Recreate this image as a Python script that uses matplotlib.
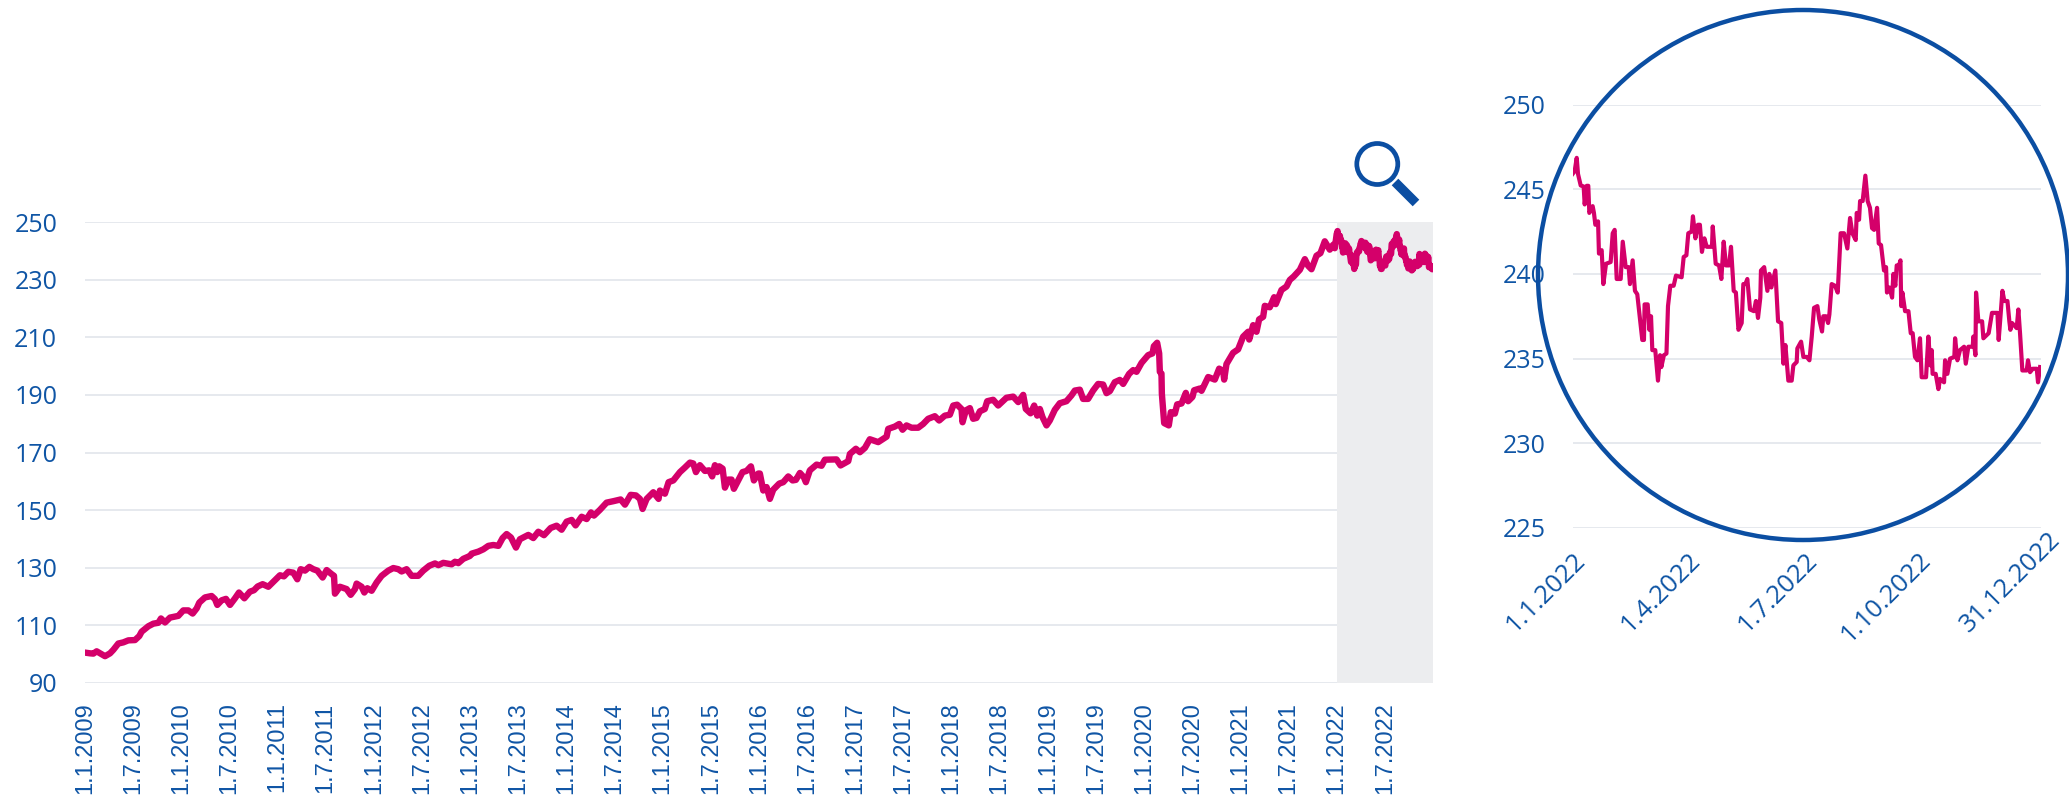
# Index 2009-2022 with a magnified view of 2022
import matplotlib
matplotlib.use('Agg')
import matplotlib.pyplot as plt
from matplotlib.lines import Line2D
from matplotlib.patches import Circle
from matplotlib.transforms import IdentityTransform, ScaledTranslation
import numpy as np

plt.rcParams['font.family'] = ['Open Sans', 'DejaVu Sans']

# whole period up to the end of 2021, date as decimal year
years_2009_2021 = [
    2009.01, 2009.052, 2009.087, 2009.121, 2009.163, 2009.208, 2009.26, 2009.294, 2009.346, 2009.398,
    2009.45, 2009.519, 2009.564, 2009.588, 2009.658, 2009.71, 2009.762, 2009.789, 2009.831, 2009.883,
    2009.969, 2010.021, 2010.073, 2010.118, 2010.16, 2010.187, 2010.246, 2010.315, 2010.35, 2010.374,
    2010.419, 2010.464, 2010.506, 2010.558, 2010.599, 2010.655, 2010.713, 2010.755, 2010.793, 2010.845,
    2010.904, 2010.949, 2011.025, 2011.066, 2011.111, 2011.163, 2011.205, 2011.24, 2011.285, 2011.33,
    2011.371, 2011.413, 2011.468, 2011.51, 2011.561, 2011.586, 2011.596, 2011.648, 2011.717, 2011.759,
    2011.804, 2011.821, 2011.873, 2011.901, 2011.932, 2011.977, 2012.029, 2012.081, 2012.15, 2012.202,
    2012.254, 2012.288, 2012.34, 2012.392, 2012.461, 2012.513, 2012.576,
    2012.635, 2012.67, 2012.721, 2012.808, 2012.843, 2012.877, 2012.929, 2012.998, 2013.016, 2013.085,
    2013.137, 2013.189, 2013.241, 2013.293, 2013.337, 2013.379, 2013.424, 2013.476, 2013.517, 2013.604,
    2013.656, 2013.708, 2013.767, 2013.836, 2013.898, 2013.95, 2014.002, 2014.054, 2014.095, 2014.158,
    2014.21, 2014.255, 2014.286, 2014.348, 2014.417, 2014.487, 2014.563, 2014.608, 2014.667, 2014.722,
    2014.763, 2014.791, 2014.833, 2014.902, 2014.957, 2014.971, 2015.023, 2015.061, 2015.11, 2015.179,
    2015.231, 2015.283, 2015.317, 2015.345, 2015.386, 2015.438, 2015.483, 2015.514, 2015.542, 2015.566,
    2015.587, 2015.622, 2015.646, 2015.681, 2015.715, 2015.739, 2015.784, 2015.829, 2015.871, 2015.916,
    2015.947, 2015.992, 2016.009, 2016.044, 2016.079, 2016.113, 2016.148, 2016.21,
    2016.252, 2016.304, 2016.349, 2016.383, 2016.425, 2016.466, 2016.487, 2016.528, 2016.598, 2016.65,
    2016.684, 2016.805, 2016.847, 2016.927, 2016.944, 2017.006, 2017.048, 2017.1, 2017.151, 2017.238,
    2017.325, 2017.342, 2017.411, 2017.456, 2017.491, 2017.532, 2017.584, 2017.653, 2017.705, 2017.757,
    2017.826, 2017.871, 2017.93, 2017.982, 2018.017, 2018.058, 2018.103, 2018.114, 2018.148, 2018.19,
    2018.224, 2018.259, 2018.294, 2018.345, 2018.37, 2018.432, 2018.484, 2018.57, 2018.64, 2018.692,
    2018.744, 2018.771, 2018.82, 2018.858, 2018.889, 2018.917, 2018.944, 2018.986, 2019.02, 2019.072,
    2019.124, 2019.193, 2019.245, 2019.28, 2019.332, 2019.366, 2019.418, 2019.47, 2019.522, 2019.574,
    2019.609, 2019.644, 2019.695, 2019.747, 2019.782, 2019.844,
    2019.886, 2019.921, 2019.973, 2020.042, 2020.087, 2020.101, 2020.135, 2020.156, 2020.163, 2020.18,
    2020.184, 2020.198, 2020.208, 2020.256, 2020.277, 2020.319, 2020.343, 2020.388, 2020.433, 2020.457,
    2020.502, 2020.519, 2020.578, 2020.596, 2020.665, 2020.734, 2020.779, 2020.821, 2020.831, 2020.855,
    2020.924, 2020.976, 2021.028, 2021.08, 2021.091, 2021.132, 2021.167, 2021.194, 2021.236, 2021.253,
    2021.305, 2021.35, 2021.367, 2021.426, 2021.478, 2021.513, 2021.554, 2021.617, 2021.669, 2021.703,
    2021.738, 2021.79, 2021.831, 2021.876, 2021.928, 2021.963, 2021.98,
]
values_2009_2021 = [
    100.5, 100.3, 100.2, 101.0, 100.2, 99.3, 100.3, 101.5, 103.7, 104.1,
    104.8, 104.9, 106.3, 107.8, 109.7, 110.6, 110.9, 112.4, 111.0, 112.7,
    113.3, 115.2, 115.2, 114.1, 115.9, 117.9, 119.7, 120.2, 119.1, 117.1,
    118.7, 119.2, 117.1, 119.4, 121.4, 119.4, 121.7, 122.2, 123.5, 124.3,
    123.4, 124.9, 127.4, 127.0, 128.6, 128.3, 126.0, 129.5, 129.0, 130.3,
    129.5, 129.0, 126.6, 129.2, 127.8, 127.2, 121.0, 123.4, 122.6, 120.6,
    122.6, 124.5, 123.4, 121.4, 122.9, 122.0, 124.9, 127.2, 129.0, 129.9,
    129.5, 128.7, 129.5, 127.2, 127.2, 129.0, 130.7,
    131.5, 130.9, 131.7, 131.2, 132.1, 131.6, 133.1, 134.1, 134.9, 135.6,
    136.4, 137.6, 137.9, 137.6, 140.3, 141.7, 140.5, 137.0, 139.9, 141.4,
    140.3, 142.5, 141.3, 143.8, 144.6, 143.2, 146.0, 146.6, 144.7, 147.7,
    146.9, 149.2, 148.1, 150.1, 152.6, 153.1, 153.7, 151.9, 155.3, 155.1,
    153.9, 150.4, 153.9, 156.2, 153.9, 156.8, 155.7, 159.7, 160.3, 163.2,
    164.8, 166.5, 166.2, 163.2, 165.6, 163.6, 163.8, 161.7, 165.6, 163.2,
    165.2, 164.4, 157.8, 160.6, 160.6, 157.4, 160.3, 163.2, 163.6, 165.2,
    160.3, 162.7, 162.7, 156.8, 158.0, 153.9, 157.1, 159.2,
    159.7, 161.7, 160.3, 160.5, 162.9, 161.4, 159.7, 163.8, 165.8, 165.4,
    167.5, 167.6, 165.5, 167.0, 169.5, 171.3, 170.1, 171.6, 174.6, 173.6,
    175.5, 178.2, 179.0, 179.9, 177.9, 179.4, 178.6, 178.6, 179.9, 181.7,
    182.6, 181.1, 182.8, 183.1, 186.3, 186.6, 185.1, 180.5, 184.6, 185.4,
    181.7, 182.0, 184.3, 185.1, 187.8, 188.3, 186.3, 189.0, 189.4, 187.5,
    190.0, 185.1, 183.6, 186.3, 182.8, 185.1, 182.3, 179.4, 181.1, 184.8,
    187.1, 187.8, 189.8, 191.5, 191.8, 188.6, 188.6, 191.5, 193.8, 193.6,
    190.6, 191.3, 194.4, 195.2, 193.8, 197.3,
    198.6, 198.0, 201.1, 203.8, 204.4, 206.9, 208.1, 204.4, 198.0, 197.4,
    190.4, 184.6, 180.2, 179.4, 184.0, 183.5, 186.7, 187.0, 190.7, 187.8,
    189.3, 191.6, 192.2, 191.4, 196.2, 195.3, 199.1, 198.3, 195.3, 200.7,
    204.6, 205.8, 210.2, 211.9, 209.2, 214.2, 211.9, 216.2, 217.1, 220.9,
    220.4, 223.9, 221.5, 226.4, 227.6, 229.9, 231.1, 233.4, 237.1, 234.8,
    233.6, 238.3, 239.2, 243.3, 240.4, 242.1, 240.9,
]

# 2022, date as days since 1.1.2022
days_2022 = [
    0, 1.6, 3.2, 4.2, 6.3, 8.6, 9.4, 11, 12.2, 13, 15.6, 16.6, 17.7, 19.8, 20.5, 22.6, 23.9, 26, 29.6, 31.2,
    32.7, 34.3, 37.4, 39, 41.3, 43.6, 44.6, 46.7, 48.5, 50.3, 54.2, 55.5, 56, 58.4, 59.7, 61, 62, 64.3, 66.4, 68,
    69, 71, 73, 74.2, 76, 78.6, 80.4, 84.8, 86.4, 88.5, 90, 92.6, 93.6, 95.5, 97.5, 99, 100.6, 102.5, 104.3, 108.4,
    109, 111.3, 113.9, 115.7, 117.5, 119.3, 121.7, 123.2, 125.3, 127, 129, 131.5, 132.8, 134.4, 135.9, 138, 141, 142.6, 144.2, 146,
    146.5, 149, 151.5, 153, 154.6, 157.7, 159.8, 162.3, 164, 165.5, 167.8, 170.4, 171.7, 174.3, 174.8, 177.7, 179.5, 182.1, 184.2, 186,
    187.8, 190.4, 191.9, 194, 195, 197.1, 198.7, 199.7, 201.5, 204.1, 206.2, 208.5, 211.1, 213.7, 215.8, 217.6, 220.2, 221, 222.8, 223.6,
    225.6, 227.7, 229.5, 231.3, 232.9, 234.5, 236.8, 238.1, 239.9, 242.2, 243.8, 244.5, 246.4, 248.5, 249.5, 251, 252.1, 253.9, 255, 255.6,
    256.5, 258.6, 261.2, 263, 264.5, 266.3, 268.2, 270.2, 271.5, 274.9, 276.7, 278.3, 279.3, 280, 282.4, 284.5, 285.8, 288.9, 289.7, 291.5,
    293.6, 296.9, 297.5, 299.3, 301.3, 304.5, 305.8, 307.8, 311.2, 311.7, 313.3, 313.8, 315.6, 318.5, 319.5, 323.6, 326.2, 330.4, 331.4, 334.3,
    335.8, 338.2, 339.7, 340.5, 341.8, 345.4, 346.7, 348, 349.8, 353.2, 354.2, 355.8, 357.9, 361, 362, 363.6,
]
values_2022 = [
    245.9, 246.06, 246.85, 245.9, 245.22, 245.16, 244.1, 245.2, 245.2, 243.6, 244.0, 243.6, 242.9, 243.1, 241.2, 241.4, 239.4, 240.6, 240.7, 242.4,
    242.6, 239.7, 239.7, 241.9, 240.4, 240.4, 239.4, 240.8, 239.0, 238.8, 236.1, 236.1, 238.2, 238.2, 236.7, 237.5, 235.5, 235.5, 233.7, 235.2,
    234.5, 235.2, 235.3, 238.1, 239.3, 239.3, 239.9, 239.8, 241.0, 241.1, 242.4, 242.5, 243.4, 242.1, 242.9, 242.9, 241.3, 242.1, 241.6, 241.6,
    242.8, 240.6, 240.5, 239.7, 241.9, 240.5, 240.5, 241.6, 239.0, 238.9, 236.7, 237.1, 239.4, 239.4, 239.7, 237.9, 237.8, 238.4, 237.4, 238.6,
    240.2, 240.4, 239.0, 240.0, 239.2, 240.2, 237.2, 237.1, 234.7, 235.8, 233.7, 233.7, 234.6, 234.8, 235.6, 236.0, 235.1, 235.1, 234.9, 236.3,
    238.0, 238.1, 237.3, 236.6, 237.5, 237.5, 237.1, 237.6, 239.4, 239.3, 238.9, 242.4, 242.4, 241.5, 243.3, 242.4, 242.0, 243.6, 243.2, 244.3,
    244.3, 245.8, 244.3, 243.9, 242.7, 242.6, 243.9, 241.8, 241.7, 240.2, 240.4, 238.9, 239.2, 238.6, 240.0, 239.3, 240.5, 240.5, 240.8, 238.1,
    238.9, 237.8, 237.8, 236.5, 236.5, 235.1, 234.9, 236.2, 233.9, 233.9, 236.3, 234.6, 235.5, 234.1, 234.1, 233.2, 233.8, 233.6, 234.9, 234.1,
    235.0, 235.1, 236.2, 234.9, 235.5, 235.7, 234.7, 235.7, 235.7, 236.3, 235.2, 238.9, 237.2, 237.2, 236.2, 236.5, 237.7, 237.7, 236.1, 239.0,
    238.4, 238.4, 237.2, 236.7, 237.1, 236.8, 237.9, 236.5, 234.3, 234.3, 234.9, 234.2, 234.4, 234.4, 233.6, 234.5,
]

main_yticks = [90, 110, 130, 150, 170, 190, 210, 230, 250]
main_tick_years = [2009 + i * 0.5 for i in range(28)]
main_tick_labels = ['1.1.' + str(int(y)) if y == int(y) else '1.7.' + str(int(y)) for y in main_tick_years]

zoom_yticks = [225, 230, 235, 240, 245, 250]
zoom_tick_days = [0, 90, 181, 273, 364]
zoom_tick_labels = ['1.1.2022', '1.4.2022', '1.7.2022', '1.10.2022', '31.12.2022']

BLUE = '#0F55A5'
RING = '#0B4EA2'
PINK = '#D4006A'
GRID = '#E6E9EE'
SHADE = '#ECEDEF'

W, H = 2069, 796


def add_axes_px(fig, left, right, top, bottom):
    return fig.add_axes([left / W, 1 - bottom / H, (right - left) / W, (bottom - top) / H])


def style_axis(ax):
    for side in ax.spines:
        ax.spines[side].set_visible(False)
    ax.set_axisbelow(True)
    ax.grid(axis='y', color=GRID, linewidth=1.4)
    ax.grid(axis='x', visible=False)
    ax.tick_params(length=0, labelcolor=BLUE, labelsize=18)
    ax.patch.set_alpha(0)


fig = plt.figure(figsize=(W / 100, H / 100), dpi=100)

# main chart
ax = add_axes_px(fig, 85, 1433, 222, 683)
style_axis(ax)
ax.axvspan(2022, 2023, color=SHADE, linewidth=0)
main_x = np.concatenate([years_2009_2021, 2022 + np.array(days_2022) / 365])
main_y = np.concatenate([values_2009_2021, values_2022])
ax.plot(main_x, main_y, color=PINK, linewidth=4.6, solid_joinstyle='round', zorder=3)
ax.set_xlim(2009, 2023)
ax.set_ylim(90, 250)
ax.set_yticks(main_yticks)
ax.set_xticks(main_tick_years)
# the date labels are narrow along their length in the original
ax.set_xticklabels(main_tick_labels, rotation=90, ha='center', va='top',
                   family='Liberation Sans', fontsize=17)
ax.tick_params(axis='x', pad=14)
ax.tick_params(axis='y', pad=20)

# magnified 2022
zoom_ax = add_axes_px(fig, 1572.6, 2040.6, 104.5, 528)
style_axis(zoom_ax)
zoom_ax.plot(days_2022, values_2022, color=PINK, linewidth=3, solid_joinstyle='round', zorder=3)
zoom_ax.set_xlim(0, 364)
zoom_ax.set_ylim(225, 250)
zoom_ax.set_yticks(zoom_yticks)
zoom_ax.set_xticks(zoom_tick_days)
zoom_ax.set_xticklabels(zoom_tick_labels, rotation=45, ha='right', va='top', rotation_mode='anchor', fontsize=18.5)
zoom_ax.tick_params(axis='x', pad=14)
zoom_ax.tick_params(axis='y', pad=19.5)

# two labels sit off their tick in the original
labels = zoom_ax.get_xticklabels()
labels[3].set_transform(labels[3].get_transform() + ScaledTranslation(-0.05, 0, fig.dpi_scale_trans))
labels[4].set_transform(labels[4].get_transform() + ScaledTranslation(0.07, 0.2, fig.dpi_scale_trans))

# ring around the magnified view and the magnifier icon, placed in pixels
px = IdentityTransform()
fig.add_artist(Circle((1803, H - 275), 265, transform=px, fill=False, edgecolor=RING, linewidth=3.2))
fig.add_artist(Circle((1377.3, H - 164), 20.5, transform=px, fill=False, edgecolor=RING, linewidth=3.4))
fig.add_artist(Line2D([1395, 1416], [H - 182, H - 203], transform=px, color=RING, linewidth=6.7, solid_capstyle='butt'))

fig.savefig('out.png', dpi=100)
plt.close(fig)
